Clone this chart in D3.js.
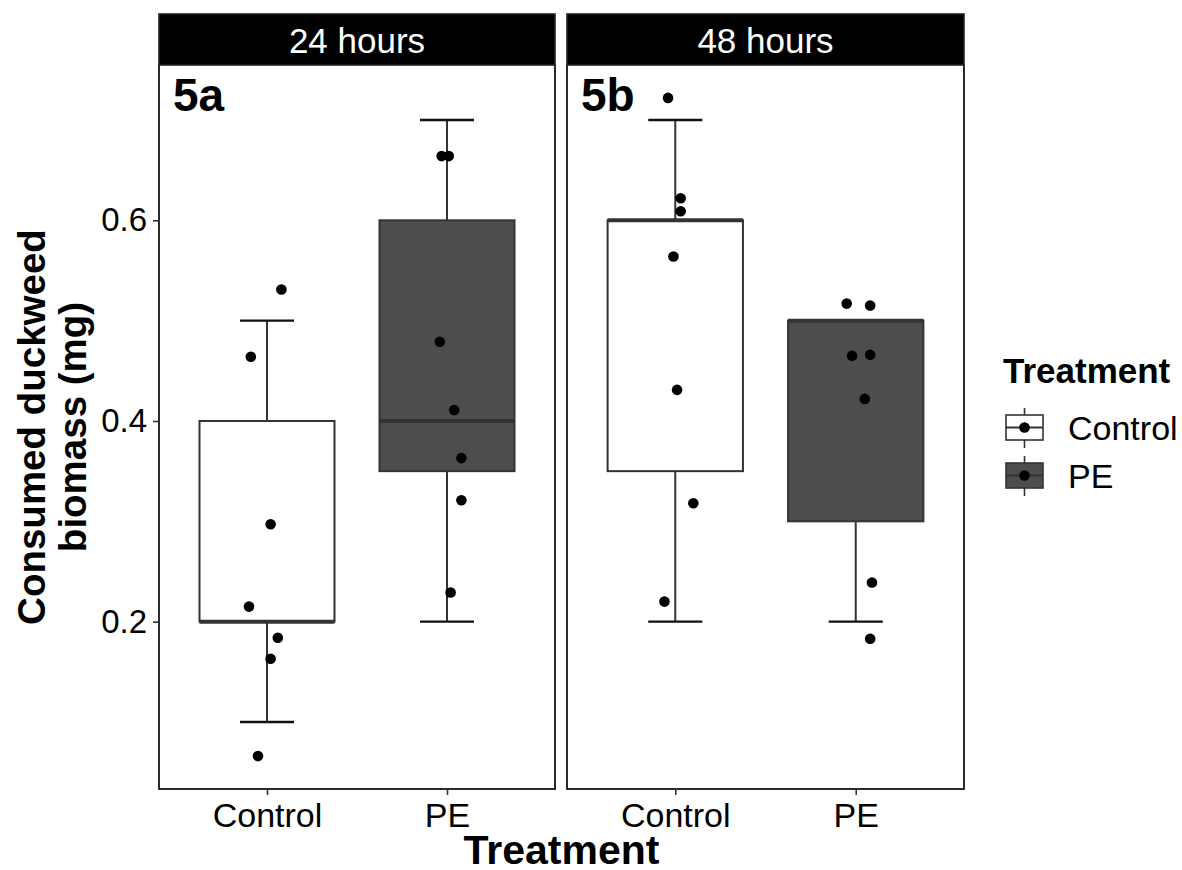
<!DOCTYPE html>
<html>
<head>
<meta charset="utf-8">
<script src="https://cdn.jsdelivr.net/npm/d3@7"></script>
<style>
  body { margin: 0; background: #fff; }
  text { font-family: "Liberation Sans", Arial, sans-serif; }
</style>
</head>
<body>
<svg id="chart" width="1182" height="870"></svg>
<script>
// facets, categories and box summaries
const facets = ["24 hours", "48 hours"];
const panelTags = ["5a", "5b"];
const treatments = ["Control", "PE"];
const fills = ["#ffffff", "#4d4d4d"];

// [lower whisker, q1, median, q3, upper whisker] per facet / treatment
const boxes24 = [[0.1, 0.2, 0.2, 0.4, 0.5], [0.2, 0.35, 0.4, 0.6, 0.7]];
const boxes48 = [[0.2, 0.35, 0.6, 0.6, 0.7], [0.2, 0.3, 0.5, 0.5, 0.5]];

// raw points and their jitter (in category widths)
const pts24Control = [0.531, 0.464, 0.297, 0.215, 0.184, 0.163, 0.066];
const jit24Control = [0.08, -0.09, 0.02, -0.10, 0.06, 0.02, -0.05];
const pts24PE = [0.664, 0.664, 0.479, 0.411, 0.363, 0.321, 0.229];
const jit24PE = [-0.03, 0.01, -0.04, 0.04, 0.08, 0.08, 0.02];
const pts48Control = [0.722, 0.622, 0.609, 0.564, 0.431, 0.318, 0.220];
const jit48Control = [-0.04, 0.03, 0.03, -0.01, 0.01, 0.10, -0.06];
const pts48PE = [0.517, 0.515, 0.465, 0.466, 0.422, 0.239, 0.183];
const jit48PE = [-0.05, 0.08, -0.02, 0.08, 0.05, 0.09, 0.08];

const yTicks = [0.2, 0.4, 0.6];

const panels = [
  { boxes: boxes24, pts: [pts24Control, pts24PE], jit: [jit24Control, jit24PE] },
  { boxes: boxes48, pts: [pts48Control, pts48PE], jit: [jit48Control, jit48PE] }
];

const svg = d3.select("#chart");
const panelTop = 65, panelBottom = 789, stripTop = 14;
const panelX = [[159, 555], [567, 964]];
const ink = "#333333";

// y scale with ggplot-like 5% expansion
const allPts = [].concat(pts24Control, pts24PE, pts48Control, pts48PE);
const lo = d3.min(allPts), hi = d3.max(allPts), pad = (hi - lo) * 0.05;
const y = d3.scaleLinear().domain([lo - pad, hi + pad]).range([panelBottom, panelTop]);

panels.forEach((p, k) => {
  const [x0, x1] = panelX[k];
  const x = d3.scalePoint().domain(treatments).range([x0, x1]).padding(0.6);
  const step = x.step();
  const g = svg.append("g");

  // strip
  g.append("rect").attr("x", x0).attr("y", stripTop)
    .attr("width", x1 - x0).attr("height", panelTop - stripTop).attr("fill", "#000");
  g.append("text").attr("x", (x0 + x1) / 2).attr("y", 53)
    .attr("text-anchor", "middle").attr("fill", "#fff")
    .style("font-size", "35px").text(facets[k]);

  // boxes
  treatments.forEach((t, i) => {
    const [wl, q1, med, q3, wh] = p.boxes[i];
    const cx = x(t), bw = step * 0.75, cw = step * 0.3;
    g.append("line").attr("x1", cx).attr("x2", cx).attr("y1", y(wl)).attr("y2", y(q1))
      .attr("stroke", ink).attr("stroke-width", 2);
    g.append("line").attr("x1", cx).attr("x2", cx).attr("y1", y(q3)).attr("y2", y(wh))
      .attr("stroke", ink).attr("stroke-width", 2);
    // error bar caps
    [wl, wh].forEach((v) => {
      if (v === q3 && v === wh && v !== wl) return;
      g.append("line").attr("x1", cx - cw / 2).attr("x2", cx + cw / 2)
        .attr("y1", y(v)).attr("y2", y(v)).attr("stroke", "#111").attr("stroke-width", 2.3);
    });
    g.append("rect").attr("x", cx - bw / 2).attr("y", y(q3))
      .attr("width", bw).attr("height", y(q1) - y(q3))
      .attr("fill", fills[i]).attr("stroke", ink).attr("stroke-width", 2);
    g.append("line").attr("x1", cx - bw / 2).attr("x2", cx + bw / 2)
      .attr("y1", y(med)).attr("y2", y(med)).attr("stroke", ink).attr("stroke-width", 4);

    // points
    g.selectAll(null).data(p.pts[i]).enter().append("circle")
      .attr("cx", (d, j) => cx + p.jit[i][j] * step)
      .attr("cy", (d) => y(d)).attr("r", 5.3).attr("fill", "#000");
  });

  // panel border
  g.append("rect").attr("x", x0).attr("y", panelTop)
    .attr("width", x1 - x0).attr("height", panelBottom - panelTop)
    .attr("fill", "none").attr("stroke", "#222").attr("stroke-width", 1.6);
  g.append("rect").attr("x", x0).attr("y", stripTop)
    .attr("width", x1 - x0).attr("height", panelBottom - stripTop)
    .attr("fill", "none").attr("stroke", "#222").attr("stroke-width", 1.6);

  g.append("text").attr("x", x0 + 14).attr("y", 111)
    .style("font-size", "46px").style("font-weight", "bold").text(panelTags[k]);

  // x axis
  const xa = svg.append("g").attr("transform", `translate(0,${panelBottom})`)
    .call(d3.axisBottom(x).tickSize(6).tickPadding(8));
  xa.select(".domain").remove();
  xa.selectAll(".tick line").attr("stroke", ink).attr("stroke-width", 1.6);
  xa.selectAll(".tick text").attr("fill", "#000").attr("dy", null).attr("y", 38)
    .style("font-size", "34px").style("font-family", "Liberation Sans, Arial, sans-serif");
});

// y axis
const ya = svg.append("g").attr("transform", `translate(${panelX[0][0]},0)`)
  .call(d3.axisLeft(y).tickValues(yTicks).tickFormat(d3.format(".1f")).tickSize(6).tickPadding(6));
ya.select(".domain").remove();
ya.selectAll(".tick line").attr("stroke", ink).attr("stroke-width", 1.6);
ya.selectAll(".tick text").attr("fill", "#000")
  .style("font-size", "33px").style("font-family", "Liberation Sans, Arial, sans-serif");

// axis titles
const yt = svg.append("text").attr("transform", "translate(45,427) rotate(-90)")
  .attr("text-anchor", "middle").style("font-size", "38.5px").style("font-weight", "bold");
yt.append("tspan").attr("x", 0).attr("y", 0).text("Consumed duckweed");
yt.append("tspan").attr("x", 0).attr("y", 41).text("biomass (mg)");

svg.append("text").attr("x", (panelX[0][0] + panelX[1][1]) / 2).attr("y", 864)
  .attr("text-anchor", "middle").style("font-size", "41px").style("font-weight", "bold")
  .text("Treatment");

// legend
const leg = svg.append("g");
leg.append("text").attr("x", 1003).attr("y", 383)
  .style("font-size", "35px").style("font-weight", "bold").text("Treatment");
const keyTop = d3.scalePoint().domain(treatments).range([415, 463]);
treatments.forEach((t, i) => {
  const ky = keyTop(t), kx = 1006, kw = 37, kh = 25, mx = kx + kw / 2;
  leg.append("line").attr("x1", mx).attr("x2", mx).attr("y1", ky - 7).attr("y2", ky + kh + 8)
    .attr("stroke", ink).attr("stroke-width", 1.6);
  leg.append("rect").attr("x", kx).attr("y", ky).attr("width", kw).attr("height", kh)
    .attr("fill", fills[i]).attr("stroke", ink).attr("stroke-width", 1.6);
  leg.append("line").attr("x1", kx).attr("x2", kx + kw).attr("y1", ky + kh / 2).attr("y2", ky + kh / 2)
    .attr("stroke", ink).attr("stroke-width", 2);
  leg.append("circle").attr("cx", mx).attr("cy", ky + kh / 2).attr("r", 5.3).attr("fill", "#000");
  leg.append("text").attr("x", 1068).attr("y", ky + kh)
    .style("font-size", "34px").text(t);
});
</script>
</body>
</html>
